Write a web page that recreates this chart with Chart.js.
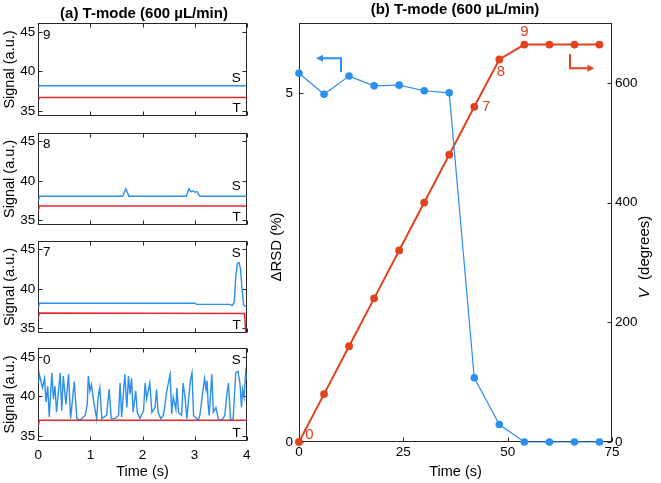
<!DOCTYPE html>
<html><head><meta charset="utf-8">
<script src="https://cdn.jsdelivr.net/npm/chart.js@4.4.0/dist/chart.umd.min.js"></script>
<style>
body{margin:0;background:#fff;}
#wrap{position:relative;width:661px;height:483px;overflow:hidden;background:#fff;}
#wrap canvas{position:absolute;left:0;top:0;}
.ttl{position:absolute;font:bold 15px 'Liberation Sans',Arial,sans-serif;white-space:nowrap;line-height:17px;transform:translateX(-50%);color:#000;}
</style></head><body>
<div id="wrap">
<canvas id="c9" width="661" height="483"></canvas>
<canvas id="c8" width="661" height="483"></canvas>
<canvas id="c7" width="661" height="483"></canvas>
<canvas id="c0" width="661" height="483"></canvas>
<canvas id="cb" width="661" height="483"></canvas>
<div class="ttl" style="left:144px;top:4px">(a) T-mode (600 µL/min)</div>
<div class="ttl" style="left:455px;top:0px">(b) T-mode (600 µL/min)</div>
</div>
<script>
// ---------- data: panel (a) ----------
const tTicksA = [0, 1, 2, 3, 4];
const sigTicks = [35, 40, 45];

const p9_tS = [0, 0.02, 4];
const p9_S  = [37.9, 38.2, 38.2];
const p9_tT = [0, 0.02, 4];
const p9_T  = [36.3, 36.7, 36.7];

const p8_tS = [0, 0.02, 1.62, 1.68, 1.74, 2.84, 2.89, 2.93, 2.97, 3.01, 3.05, 3.1, 4];
const p8_S  = [37.4, 38.05, 38.05, 39.0, 38.05, 38.05, 39.0, 38.6, 38.75, 38.55, 38.65, 38.05, 38.05];
const p8_tT = [0, 0.02, 4];
const p8_T  = [36.2, 36.83, 36.83];

const p7_tS = [0, 0.02, 3.0, 3.04, 3.68, 3.72, 3.76, 3.79, 3.82, 3.85, 3.88, 3.91, 3.94, 3.97, 4.0];
const p7_S  = [37.6, 38.2, 38.2, 38.05, 38.05, 37.9, 38.3, 41.5, 43.2, 43.35, 42.6, 40.0, 38.0, 37.8, 37.8];
const p7_tT = [0, 0.02, 3.96, 3.98, 4.0];
const p7_T  = [36.3, 36.95, 36.9, 34.5, 34.0];

const p0_tS = [0, 0.02, 0.08, 0.12, 0.15, 0.18, 0.21, 0.26, 0.29, 0.32, 0.35, 0.42, 0.45, 0.48, 0.53, 0.58, 0.62, 0.69, 0.74, 0.8, 0.9, 0.94, 0.96, 0.99, 1.02, 1.06, 1.12, 1.15, 1.18, 1.22, 1.31, 1.36, 1.4, 1.47, 1.54, 1.57, 1.6, 1.66, 1.7, 1.73, 1.76, 1.79, 1.82, 1.87, 1.9, 1.95, 2.02, 2.05, 2.08, 2.14, 2.18, 2.24, 2.27, 2.3, 2.35, 2.4, 2.43, 2.46, 2.53, 2.56, 2.59, 2.64, 2.66, 2.69, 2.75, 2.78, 2.82, 2.85, 2.88, 2.92, 2.95, 2.98, 3.07, 3.1, 3.19, 3.22, 3.24, 3.26, 3.28, 3.33, 3.36, 3.41, 3.46, 3.49, 3.55, 3.58, 3.62, 3.65, 3.69, 3.74, 3.79, 3.83, 3.87, 3.9, 3.92, 3.95, 3.98, 4.0];
const p0_S  = [41.7, 42.8, 41.1, 42.3, 39.3, 41.3, 37.4, 43.0, 39.7, 41.3, 38.0, 43.0, 38.2, 42.6, 39.0, 42.8, 37.2, 41.9, 37.2, 37.0, 37.6, 39.0, 42.6, 40.7, 41.5, 39.5, 37.2, 40.0, 41.1, 37.2, 37.6, 40.9, 37.2, 37.2, 37.6, 41.7, 37.4, 42.8, 38.6, 42.6, 40.3, 42.3, 38.0, 40.7, 38.0, 37.2, 38.2, 41.7, 39.7, 41.7, 38.0, 38.6, 40.9, 38.0, 37.2, 37.6, 38.8, 40.5, 42.8, 37.8, 39.9, 38.4, 41.1, 38.0, 37.6, 41.7, 39.7, 37.2, 39.3, 42.1, 43.0, 37.6, 37.0, 37.6, 42.3, 40.9, 42.0, 39.0, 37.6, 42.8, 38.0, 38.6, 37.0, 37.0, 37.2, 37.6, 40.3, 41.7, 37.0, 37.2, 43.0, 43.2, 41.7, 38.6, 40.9, 39.9, 43.0, 42.1];
const p0_tT = [0, 0.02, 4];
const p0_T  = [36.3, 37.0, 37.0];

// ---------- data: panel (b) ----------
const timeB  = [0, 6, 12, 18, 24, 30, 36, 42, 48, 54, 60, 66, 72];
const dRSD   = [5.28, 4.98, 5.24, 5.10, 5.11, 5.03, 5.00, 0.92, 0.25, 0, 0, 0, 0];
const angleV = [0, 80, 160, 240, 320, 400, 480, 560, 639, 664, 664, 664, 664];
const xTicksB = [0, 25, 50, 75];
const rsdTicks = [0, 5];
const vTicks = [0, 200, 400, 600];

// ---------- styles ----------
const FONT = "'Liberation Sans', Arial, sans-serif";
const BLUE = '#2B8EF0', RED_A = '#E8282E', RED_B = '#E2421D', FRAME = '#262626';

const pts = (xs, ys) => xs.map((x, i) => ({x: x, y: ys[i]}));

const frameTicks = {
  id: 'frameTicks',
  beforeDatasetsDraw(chart, args, opts) {
    const {ctx, chartArea: a} = chart;
    const L = 4;
    ctx.save();
    ctx.strokeStyle = FRAME; ctx.lineWidth = 1;
    const l = Math.round(a.left) + 0.5, r = Math.round(a.right) - 0.5,
          t = Math.round(a.top) + 0.5, b = Math.round(a.bottom) - 0.5;
    ctx.strokeRect(l, t, r - l, b - t);
    ctx.beginPath();
    (opts.marks || []).forEach(m => {
      const sc = chart.scales[m.axis];
      sc.ticks.forEach(tk => {
        const p = Math.round(sc.getPixelForValue(tk.value)) + 0.5;
        if (m.side === 'left')   { ctx.moveTo(l, p); ctx.lineTo(l + L, p); }
        if (m.side === 'right')  { ctx.moveTo(r, p); ctx.lineTo(r - L, p); }
        if (m.side === 'bottom') { ctx.moveTo(p, b); ctx.lineTo(p, b - L); }
        if (m.side === 'top')    { ctx.moveTo(p, t); ctx.lineTo(p, t + L); }
      });
    });
    ctx.stroke();
    ctx.restore();
  }
};

const notes = {
  id: 'notes',
  afterDatasetsDraw(chart, args, opts) {
    const ctx = chart.ctx;
    (opts.items || []).forEach(it => {
      const xs = chart.scales[it.xAxis || 'x'], ys = chart.scales[it.yAxis || 'y'];
      const px = xs.getPixelForValue(it.x) + (it.dx || 0);
      const py = ys.getPixelForValue(it.y) + (it.dy || 0);
      ctx.save();
      ctx.font = it.font; ctx.fillStyle = it.color;
      ctx.textAlign = it.align || 'center'; ctx.textBaseline = 'middle';
      ctx.fillText(it.text, px, py);
      ctx.restore();
    });
    (opts.arrows || []).forEach(ar => {
      const xs = chart.scales[ar.xAxis || 'x'], ys = chart.scales[ar.yAxis || 'y'];
      const P = ar.path.map(p => [xs.getPixelForValue(p[0]), ys.getPixelForValue(p[1])]);
      const n = P.length;
      const [tx, ty] = P[n - 1], [sx, sy] = P[n - 2];
      const ang = Math.atan2(ty - sy, tx - sx);
      const hl = 7, hw = 3.5;
      const bx = tx - hl * Math.cos(ang), by = ty - hl * Math.sin(ang);
      ctx.save();
      ctx.strokeStyle = ar.color; ctx.fillStyle = ar.color; ctx.lineWidth = 2;
      ctx.beginPath();
      ctx.moveTo(P[0][0], P[0][1]);
      for (let i = 1; i < n - 1; i++) ctx.lineTo(P[i][0], P[i][1]);
      ctx.lineTo(bx, by);
      ctx.stroke();
      ctx.beginPath();
      ctx.moveTo(tx, ty);
      ctx.lineTo(bx - hw * Math.sin(ang), by + hw * Math.cos(ang));
      ctx.lineTo(bx + hw * Math.sin(ang), by - hw * Math.cos(ang));
      ctx.closePath(); ctx.fill();
      ctx.restore();
    });
    (opts.sideTitles || []).forEach(st => {
      const a = chart.chartArea;
      ctx.save();
      ctx.translate(st.x, st.y);
      ctx.rotate(-Math.PI / 2);
      ctx.textBaseline = 'middle'; ctx.textAlign = 'left'; ctx.fillStyle = '#000';
      let w = 0;
      st.parts.forEach(p => { ctx.font = p.font; w += ctx.measureText(p.text).width; });
      let x = -w / 2;
      st.parts.forEach(p => { ctx.font = p.font; ctx.fillText(p.text, x, 0); x += ctx.measureText(p.text).width; });
      ctx.restore();
    });
  }
};

const tickFont = {family: FONT, size: 13.5};
const titleFont = {family: FONT, size: 14.5};

function panelA(id, top, isBottom, tS, S, tT, T, tag, sLabelY) {
  const h = 92.4;
  const xH = isBottom ? (483 - (top + h)) : 0;
  return new Chart(document.getElementById(id), {
    type: 'line',
    data: {datasets: [
      {data: pts(tT, T), borderColor: RED_A, borderWidth: 1.5, pointRadius: 0, tension: 0},
      {data: pts(tS, S), borderColor: BLUE, borderWidth: 1.4, pointRadius: 0, tension: 0}
    ]},
    options: {
      responsive: false, animation: false, events: [],
      layout: {padding: {left: 0, top: top, right: 661 - 246.7, bottom: isBottom ? 0 : 483 - (top + h)}},
      plugins: {
        legend: {display: false}, tooltip: {enabled: false},
        frameTicks: {marks: [{axis: 'x', side: 'bottom'}, {axis: 'x', side: 'top'}, {axis: 'y', side: 'left'}, {axis: 'y', side: 'right'}]},
        notes: {items: [
          {x: 0.09, y: 44.6, text: tag, font: '13.5px ' + FONT, color: '#000', align: 'left'},
          {x: 3.885, y: sLabelY, text: 'S', font: '13.5px ' + FONT, color: '#000', align: 'right'},
          {x: 3.885, y: 35.4, text: 'T', font: '13.5px ' + FONT, color: '#000', align: 'right'}
        ]}
      },
      scales: {
        x: {type: 'linear', min: 0, max: 4,
            afterBuildTicks: s => { s.ticks = tTicksA.map(v => ({value: v})); },
            afterFit: s => { s.height = xH; },
            grid: {display: false, drawTicks: false}, border: {display: false},
            ticks: {display: isBottom, padding: 6, font: tickFont, color: '#000'},
            title: {display: isBottom, text: 'Time (s)', font: titleFont, color: '#000', padding: {top: 0, bottom: 2.3}}},
        y: {type: 'linear', min: 34.4, max: 46.1,
            afterBuildTicks: s => { s.ticks = sigTicks.map(v => ({value: v})); },
            afterFit: s => { s.width = 38.3; },
            grid: {display: false, drawTicks: false}, border: {display: false},
            ticks: {padding: 3, font: tickFont, color: '#000'},
            title: {display: true, text: 'Signal (a.u.)', font: titleFont, color: '#000', padding: {top: 0.8, bottom: 0}}}
      }
    },
    plugins: [frameTicks, notes]
  });
}

panelA('c9', 23.3, false, p9_tS, p9_S, p9_tT, p9_T, '9', 39.2);
panelA('c8', 132.7, false, p8_tS, p8_S, p8_tT, p8_T, '8', 39.3);
panelA('c7', 240.8, false, p7_tS, p7_S, p7_tT, p7_T, '7', 44.5);
panelA('c0', 348.3, true, p0_tS, p0_S, p0_tT, p0_T, '0', 44.6);

// ---------- panel (b) ----------
new Chart(document.getElementById('cb'), {
  type: 'line',
  data: {datasets: [
    {data: pts(timeB, dRSD), yAxisID: 'y', borderColor: BLUE, backgroundColor: BLUE, borderWidth: 1.2,
     pointRadius: 3.8, pointBorderWidth: 0, tension: 0, clip: false},
    {data: pts(timeB, angleV), yAxisID: 'y2', borderColor: RED_B, backgroundColor: RED_B, borderWidth: 2,
     pointRadius: 3.9, pointBorderWidth: 0, tension: 0, clip: false}
  ]},
  options: {
    responsive: false, animation: false, events: [],
    layout: {padding: {left: 260, top: 23, right: 0, bottom: 0}},
    plugins: {
      legend: {display: false}, tooltip: {enabled: false},
      frameTicks: {marks: [{axis: 'x', side: 'bottom'}, {axis: 'y', side: 'left'}, {axis: 'y2', side: 'right'}]},
      notes: {
        items: [
          {x: 0, y: 0, yAxis: 'y2', dx: 10.5, dy: -7.3, text: '0', font: '15px ' + FONT, color: RED_B},
          {x: 42, y: 560, yAxis: 'y2', dx: 12, dy: 0, text: '7', font: '15px ' + FONT, color: RED_B},
          {x: 48, y: 639, yAxis: 'y2', dx: 1.5, dy: 12.4, text: '8', font: '15px ' + FONT, color: RED_B},
          {x: 54, y: 664, yAxis: 'y2', dx: 0, dy: -12.3, text: '9', font: '15px ' + FONT, color: RED_B}
        ],
        arrows: [
          {path: [[10.06, 5.30], [10.06, 5.495], [4.07, 5.495]], yAxis: 'y', color: BLUE},
          {path: [[64.94, 648], [64.94, 624.3], [70.76, 624.3]], yAxis: 'y2', color: RED_B}
        ],
        sideTitles: [
          {x: 277, y: 247, parts: [{text: 'ΔRSD (%)', font: '15px ' + FONT}]},
          {x: 645, y: 257, parts: [{text: 'V', font: 'italic 15px ' + FONT}, {text: '  (degrees)', font: '15px ' + FONT}]}
        ]
      }
    },
    scales: {
      x: {type: 'linear', min: 0, max: 75,
          afterBuildTicks: s => { s.ticks = xTicksB.map(v => ({value: v})); },
          afterFit: s => { s.height = 41; },
          grid: {display: false, drawTicks: false}, border: {display: false},
          ticks: {padding: 2, font: tickFont, color: '#000'},
          title: {display: true, text: 'Time (s)', font: titleFont, color: '#000', padding: {top: 0, bottom: 2.3}}},
      y: {type: 'linear', position: 'left', min: 0, max: 6,
          afterBuildTicks: s => { s.ticks = rsdTicks.map(v => ({value: v})); },
          afterFit: s => { s.width = 39; },
          grid: {display: false, drawTicks: false}, border: {display: false},
          ticks: {padding: 6, font: tickFont, color: '#000'}},
      y2: {type: 'linear', position: 'right', min: 0, max: 700,
          afterBuildTicks: s => { s.ticks = vTicks.map(v => ({value: v})); },
          afterFit: s => { s.width = 49; },
          grid: {display: false, drawTicks: false}, border: {display: false},
          ticks: {padding: 3, font: tickFont, color: '#000'}}
    }
  },
  plugins: [frameTicks, notes]
});
</script>
</body></html>
